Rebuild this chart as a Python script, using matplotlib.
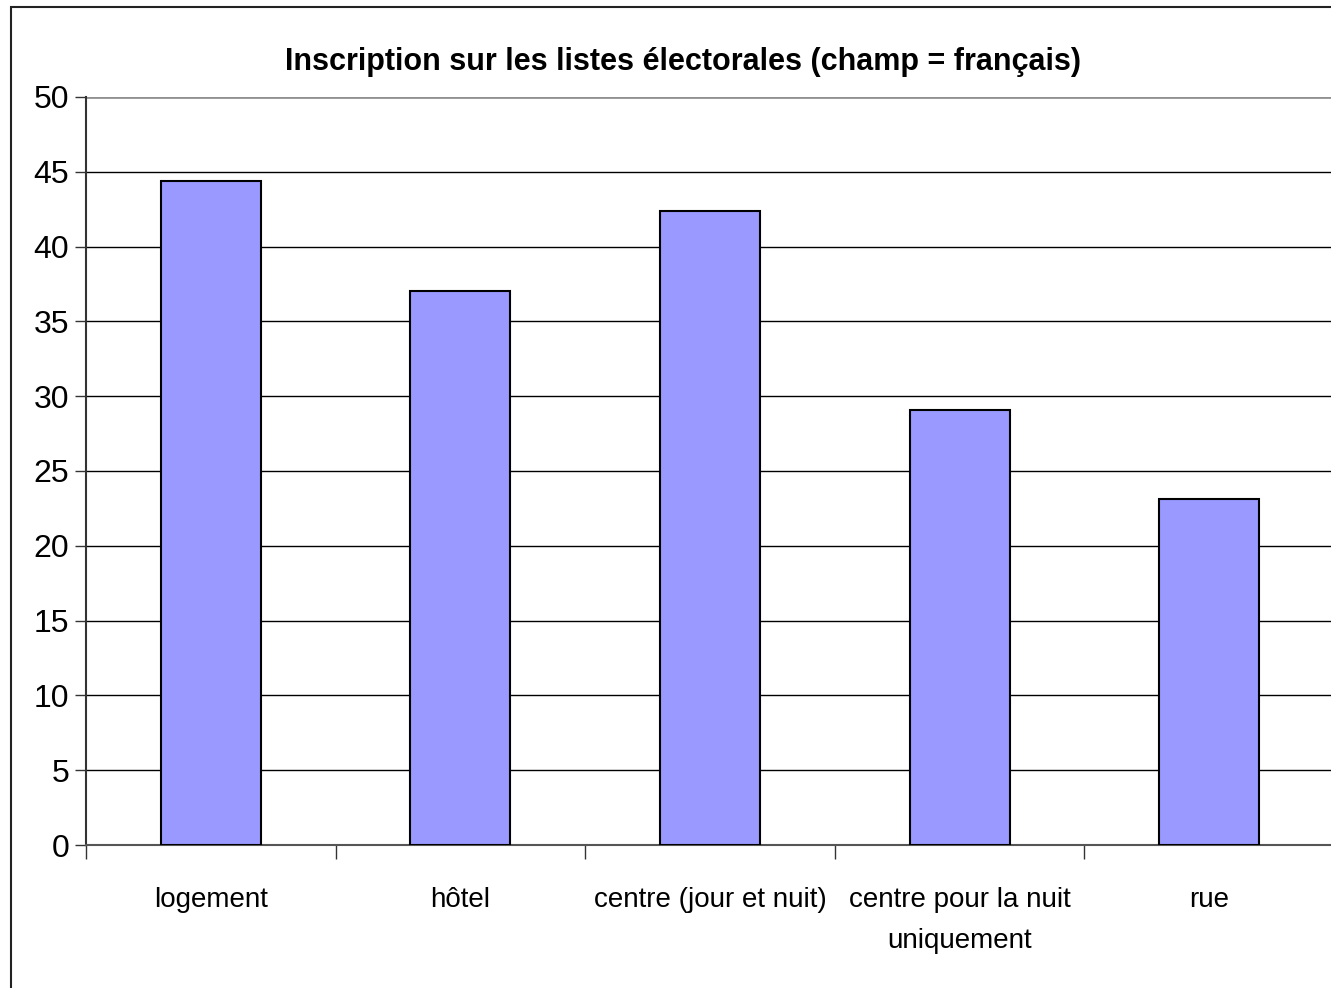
import matplotlib
matplotlib.use("Agg")
import matplotlib.pyplot as plt
from matplotlib.patches import Rectangle

categories = ["logement", "hôtel", "centre (jour et nuit)", "centre pour la nuit\nuniquement", "rue"]
values = [44.4, 37.0, 42.4, 29.1, 23.1]
yticks = [0, 5, 10, 15, 20, 25, 30, 35, 40, 45, 50]
title = "Inscription sur les listes électorales (champ = français)"

plt.rcParams['font.family'] = ['Liberation Sans', 'DejaVu Sans']

W, H = 1331, 988
fig = plt.figure(figsize=(W / 100, H / 100), dpi=100)
fig.patch.set_facecolor("white")

# outer chart frame (bottom and right edges lie outside the image)
fig.patches.append(Rectangle((11 / W, -0.2), 1.2, 1.2 - 7 / H,
                             transform=fig.transFigure, fill=False,
                             edgecolor="#222222", linewidth=1.5, zorder=0))

ax = fig.add_axes([86 / W, 1 - 845 / H, (1334 - 86) / W, (845 - 97) / H])
x = list(range(len(categories)))
ax.bar(x, values, width=0.4, color="#9999FF", edgecolor="black", linewidth=1.5, zorder=3)

ax.set_xlim(-0.5, len(categories) - 0.5)
ax.set_ylim(0, 50)
ax.set_yticks(yticks)
ax.set_yticklabels([str(v) for v in yticks], fontsize=23)
ax.tick_params(axis="y", length=8, width=1, color="#333333", pad=4)
for v in yticks[1:-1]:
    ax.axhline(v, color="black", linewidth=1, zorder=1)
ax.axhline(50, color="#909090", linewidth=2, zorder=1)

ax.set_xticks([i - 0.5 for i in x])
ax.set_xticklabels([])
ax.tick_params(axis="x", which="major", length=10, width=1, color="#333333", direction="out")
ax.set_xticks(x, minor=True)
ax.set_xticklabels(categories, minor=True, fontsize=20, linespacing=1.75)
ax.tick_params(axis="x", which="minor", length=0, pad=30)

for s in ["top", "right"]:
    ax.spines[s].set_visible(False)
ax.spines["left"].set_color("#333333")
ax.spines["left"].set_linewidth(1.5)
ax.spines["bottom"].set_color("#555555")
ax.spines["bottom"].set_linewidth(1.5)

fig.text(683 / W, 1 - 62 / H, title, ha="center", va="center",
         fontsize=22, fontweight="bold")

fig.savefig("out.png", dpi=100, facecolor="white")
